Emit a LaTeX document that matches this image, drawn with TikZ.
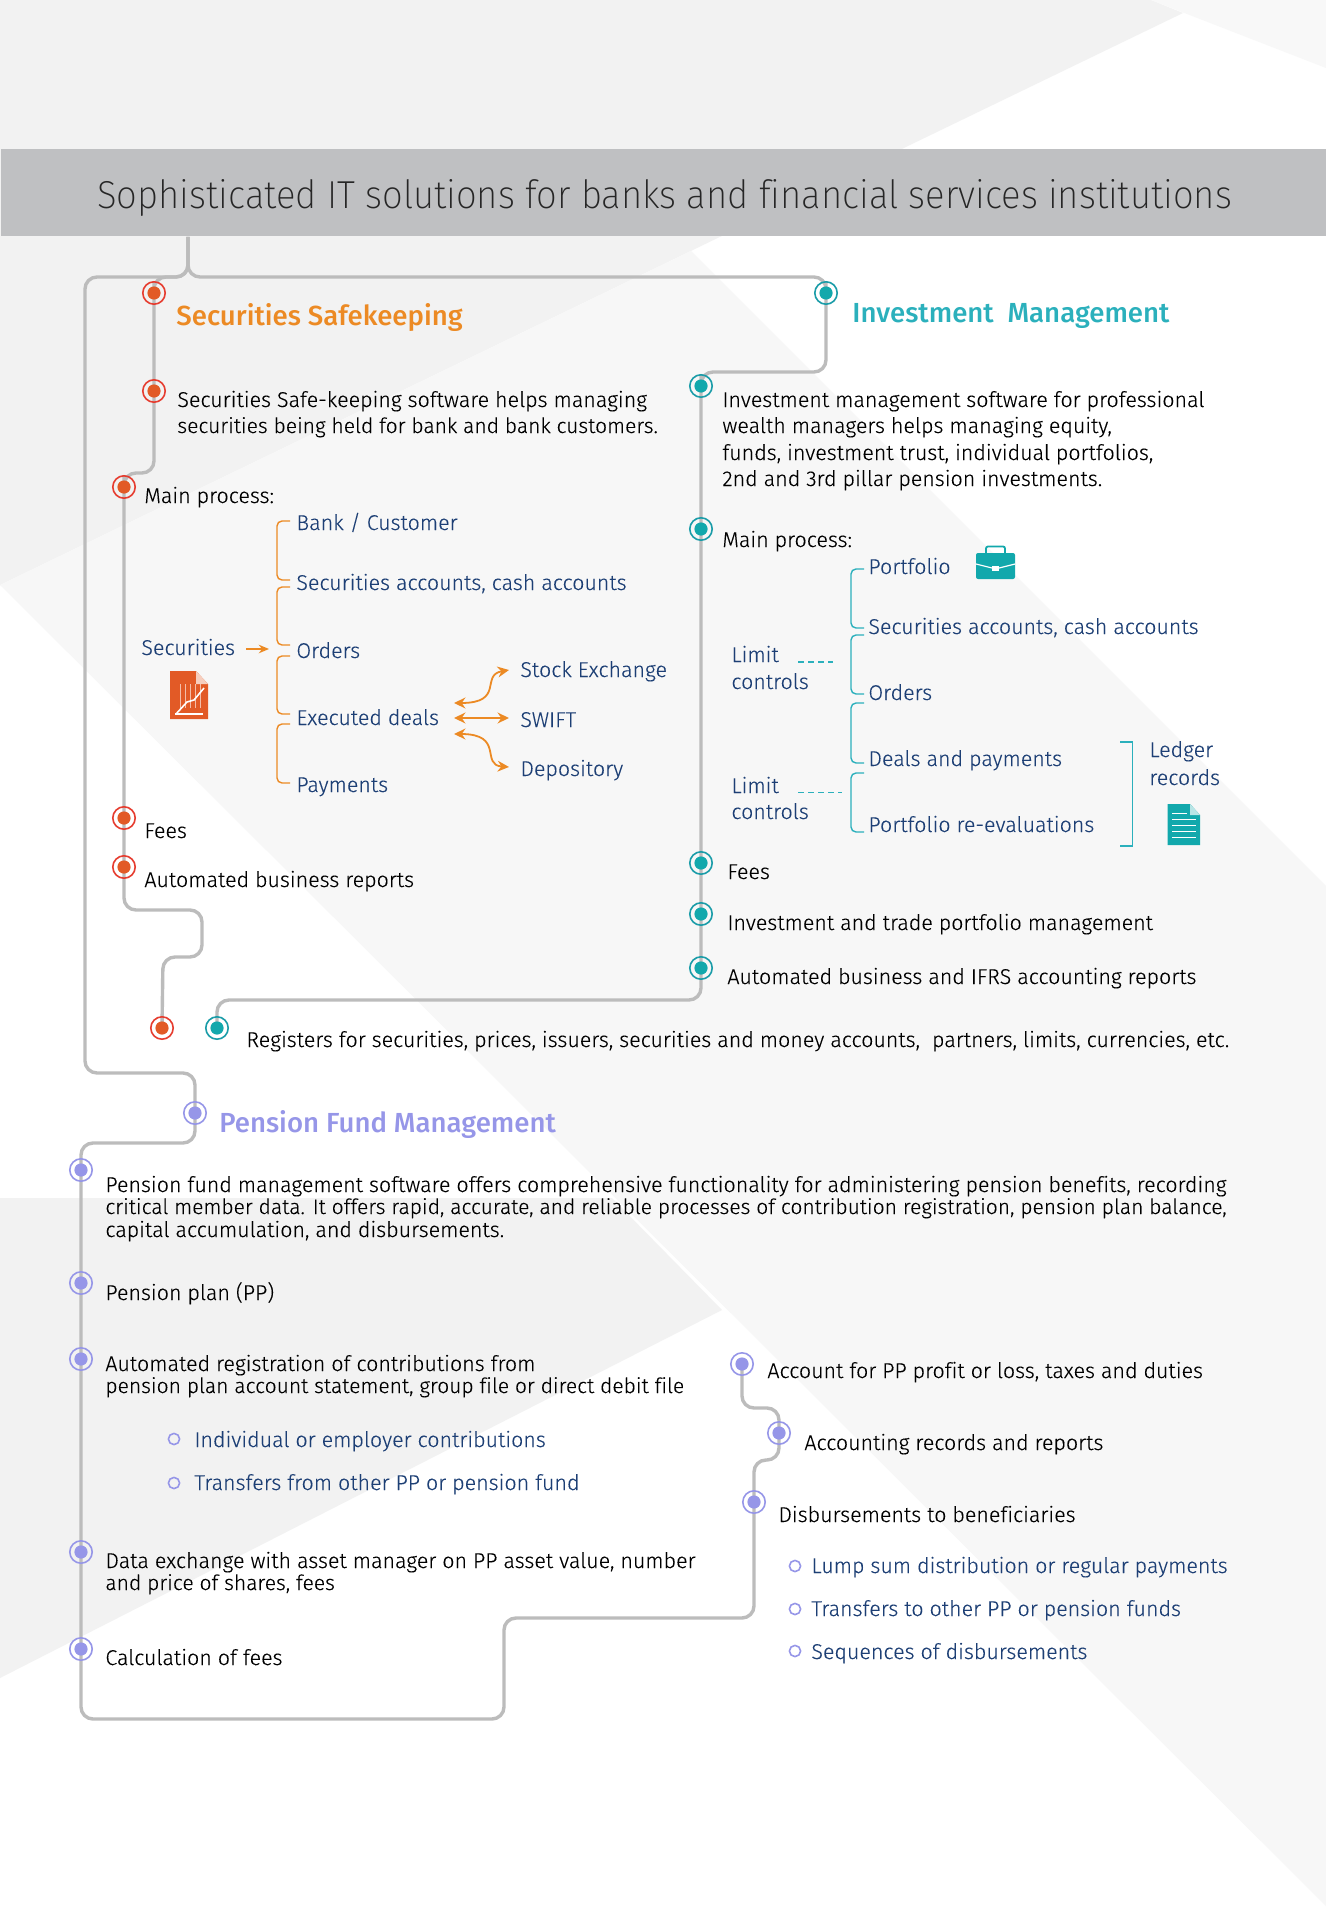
\documentclass[tikz,border=0pt]{standalone}
\usepackage{fontspec}
\setmainfont{Fira Sans}[UprightFont=* Light, Ligatures=NoCommon, FakeBold=0.15]
\newfontfamily\titlefont{Fira Sans}[UprightFont=* ExtraLight, Ligatures=NoCommon, FakeStretch=0.935]
\newfontfamily\headfont{Fira Sans}[UprightFont=* Medium, Ligatures=NoCommon]
\usetikzlibrary{arrows.meta,positioning}
\definecolor{bgdark}{HTML}{F2F2F2}
\definecolor{bglight}{HTML}{F7F7F7}
\definecolor{bgcorner}{HTML}{F8F8F8}
\definecolor{headgrey}{HTML}{BFC0C2}
\definecolor{pipegrey}{HTML}{BCBCBC}
\definecolor{inkblack}{HTML}{000000}
\definecolor{inkblue}{HTML}{1D3F75}
\definecolor{ringred}{HTML}{E63C2F}
\definecolor{dotred}{HTML}{E25A26}
\definecolor{ringteal}{HTML}{1A9CA8}
\definecolor{dotteal}{HTML}{12A8AC}
\definecolor{violet}{HTML}{9696E8}
\definecolor{orangeline}{HTML}{EC8A24}
\definecolor{tealline}{HTML}{2BB0BC}
\pgfdeclarelayer{bg}
\pgfdeclarelayer{pipes}
\pgfsetlayers{bg,pipes,main}
\begin{document}
\begin{tikzpicture}[
    x=0.5pt, y=-0.5pt,
    waypt/.style n args={2}{circle, draw=#1, line width=0.8pt, minimum size=11.2pt, inner sep=0pt,
      path picture={\fill[#2] (path picture bounding box.center) circle (3.3pt);}},
    wred/.style={waypt={ringred}{dotred}},
    wteal/.style={waypt={ringteal}{dotteal}},
    wviol/.style={waypt={violet}{violet}},
    bull/.style={circle, draw=violet, line width=0.8pt, minimum size=5.6pt, inner sep=0pt},
    pipe/.style={draw=pipegrey, line width=1.7pt, rounded corners=6pt},
    txt/.style={anchor=base west, inner sep=0pt, xshift=-0.5pt, text=inkblack, font=\fontsize{10.72}{13}\selectfont},
    tight/.style={txt, font=\fontsize{10.52}{13}\selectfont},
    blue/.style={txt, text=inkblue},
    sect/.style={anchor=base west, inner sep=0pt, xshift=-0.5pt, font=\headfont\fontsize{13.8}{16}\selectfont},
    brko/.style={draw=orangeline, line width=0.7pt, rounded corners=2.5pt},
    brkt/.style={draw=tealline, line width=0.7pt, rounded corners=2.5pt},
    arrone/.style={draw=orangeline, line width=0.8pt, -{Stealth[length=1.8mm,width=1.5mm]}},
    arrtwo/.style={draw=orangeline, line width=0.9pt, {Stealth[length=2mm,width=1.9mm]}-{Stealth[length=2mm,width=1.9mm]}}
  ]
    \useasboundingbox (0,0) rectangle (1326,1910);
    \begin{pgfonlayer}{bg}
      \fill[white] (0,0) rectangle (1326,1910);
      \fill[bgdark] (0,0) -- (1151,0) -- (1183,13) -- (0,585) -- cycle;
      \fill[bgcorner] (1151,0) -- (1326,0) -- (1326,68) -- cycle;
      \fill[bglight] (0,585) -- (691,251) -- (1326,886) -- (1326,1906) -- cycle;
      \fill[bgdark] (0,1198) -- (612,1198) -- (722,1310) -- (0,1678) -- cycle;
    \end{pgfonlayer}

    \node[fill=headgrey, minimum width=662.5pt, minimum height=43.5pt, inner sep=0pt, anchor=north west] (head) at (1,149) {};
    \node[anchor=base west, inner sep=0pt, text=black!85, font=\titlefont\fontsize{19.5}{24}\selectfont] (title) at (97,209)
      {Sophisticated IT solutions for banks and financial services institutions};
    \coordinate (fork) at (188,277);

    \node[wred] (ssect) at (154,293) {};
    \node[wred] (sdesc) at (154,391) {};
    \node[wred] (smain) at (124,487) {};
    \node[wred] (sfees) at (124,818) {};
    \node[wred] (srep) at (124,867) {};
    \node[wred] (sreg) at (162,1028) {};

    \node[wteal] (isect) at (826,293) {};
    \node[wteal] (idesc) at (701,386) {};
    \node[wteal] (imain) at (701,529) {};
    \node[wteal] (ifees) at (701,863) {};
    \node[wteal] (itrade) at (701,914) {};
    \node[wteal] (irep) at (701,968) {};
    \node[wteal] (ireg) at (217,1028) {};

    \node[wviol] (pfund) at (195,1113) {};
    \node[wviol] (pdesc) at (81,1170) {};
    \node[wviol] (pplan) at (81,1283) {};
    \node[wviol] (pauto) at (81,1359) {};
    \node[wviol] (pdata) at (81,1552) {};
    \node[wviol] (pcalc) at (81,1649) {};
    \node[wviol] (pdisb) at (754,1502) {};
    \node[wviol] (paccr) at (779,1433) {};
    \node[wviol] (pacct) at (742,1364) {};

    \begin{pgfonlayer}{pipes}
      \draw[pipe] (head.south -| fork) -- (fork) -- (85,277) -- (85,1073) -- (195,1073) -- (pfund.center) -- (195,1143) -- (81,1143)
        -- (pdesc.center) -- (pplan.center) -- (pauto.center) -- (pdata.center) -- (pcalc.center) -- (81,1719) -- (504,1719) -- (504,1618)
        -- (754,1618) -- (pdisb.center) -- (754,1460) -- (779,1460) -- (paccr.center) -- (779,1408) -- (742,1408) -- (pacct.center);
      \draw[pipe] (head.south -| fork) -- (fork) -- (154,277) -- (ssect.center) -- (sdesc.center) -- (154,473) -- (124,473) -- (smain.center)
        -- (sfees.center) -- (srep.center) -- (124,910) -- (202,910) -- (202,957) -- (163,957) -- (sreg.center);
      \draw[pipe] (head.south -| fork) -- (fork) -- (826,277) -- (isect.center) -- (826,372) -- (701,372) -- (idesc.center) -- (imain.center)
        -- (ifees.center) -- (itrade.center) -- (irep.center) -- (701,1000) -- (217,1000) -- (ireg.center);
    \end{pgfonlayer}

    \node[sect, text=orangeline] (stitle) at (177,325) {Securities Safekeeping};
    \node[txt] (sd1) at (178,407) {Securities Safe-keeping software helps managing};
    \node[tight] (sd2) at (178,433) {securities being held for bank and bank customers.};
    \node[txt] (smt) at (145,503) {Main process:};
    \node[blue] (bank) at (297,530) {Bank / Customer};
    \node[blue] (acct) at (297,590) {Securities accounts, cash accounts};
    \node[blue] (orders) at (297,658) {Orders};
    \node[blue] (deals) at (297,725) {Executed deals};
    \node[blue] (paym) at (297,792) {Payments};
    \node[blue] (secur) at (142,655) {Securities};
    \node[blue] (stock) at (521,677) {Stock Exchange};
    \node[blue] (swift) at (521,727) {SWIFT};
    \node[blue] (depo) at (521,776) {Depository};
    \node[txt] (sft) at (145,838) {Fees};
    \node[txt] (srt) at (145,887) {Automated business reports};
    \node[txt] (regt) at (247,1047) {Registers for securities, prices, issuers, securities and money accounts,\ \ partners, limits, currencies, etc.};

    \coordinate (secout) at (246,649);
    \coordinate (secin) at (269,649);
    \coordinate (dealsup) at (454,703);
    \coordinate (dealsmid) at (454,718);
    \coordinate (dealslow) at (454,734);
    \coordinate (stockin) at (509,670);
    \coordinate (swiftin) at (509,718);
    \coordinate (depoin) at (509,767);
    \draw[arrone] (secout) -- (secin);
    \draw[arrtwo] (dealsup) .. controls (505,703) and (480,675) .. (stockin);
    \draw[arrtwo] (dealsmid) -- (swiftin);
    \draw[arrtwo] (dealslow) .. controls (505,734) and (480,765) .. (depoin);

    \draw[brko] (290,521) -- (277,521) -- (277,580) -- (290,580);
    \draw[brko] (290,587) -- (277,587) -- (277,645) -- (290,645);
    \draw[brko] (290,656) -- (277,656) -- (277,714) -- (290,714);
    \draw[brko] (290,724) -- (277,724) -- (277,783) -- (290,783);

    \fill[dotred] (170,671) -- (196,671) -- (208,684) -- (208,719) -- (170,719) -- cycle;
    \fill[white!70!dotred] (196,671) -- (208,684) -- (196,684) -- cycle;
    \draw[white!60!dotred, line width=0.3pt, step=5] (176,684) grid (203,708);
    \draw[white, line width=0.8pt] (175,714) -- (203,714);
    \draw[white, line width=0.8pt] (176,714) -- (187,702) -- (194,700) -- (204,688);

    \node[sect, text=tealline] (ititle) at (853,322) {Investment\ \ Management};
    \node[txt] (id1) at (723,407) {Investment management software for professional};
    \node[txt] (id2) at (723,433) {wealth managers helps managing equity,};
    \node[txt] (id3) at (723,460) {funds, investment trust, individual portfolios,};
    \node[txt] (id4) at (723,486) {2nd and 3rd pillar pension investments.};
    \node[txt] (imt) at (723,547) {Main process:};
    \node[blue] (port) at (869,574) {Portfolio};
    \node[blue] (iacct) at (869,634) {Securities accounts, cash accounts};
    \node[blue] (iord) at (869,700) {Orders};
    \node[blue] (idp) at (869,766) {Deals and payments};
    \node[blue] (ireev) at (869,832) {Portfolio re-evaluations};
    \node[blue] (lim1) at (732,662) {Limit};
    \node[blue] (ctl1) at (732,689) {controls};
    \node[blue] (lim2) at (732,793) {Limit};
    \node[blue] (ctl2) at (732,819) {controls};
    \node[blue] (ledg) at (1150,757) {Ledger};
    \node[blue] (recs) at (1150,785) {records};
    \node[txt] (ift) at (728,879) {Fees};
    \node[txt] (itt) at (728,930) {Investment and trade portfolio management};
    \node[txt] (irt) at (728,984) {Automated business and IFRS accounting reports};

    \draw[brkt] (864,569) -- (851,569) -- (851,628) -- (864,628);
    \draw[brkt] (864,635) -- (851,635) -- (851,694) -- (864,694);
    \draw[brkt] (864,703) -- (851,703) -- (851,763) -- (864,763);
    \draw[brkt] (864,773) -- (851,773) -- (851,832) -- (864,832);
    \draw[draw=tealline, line width=0.7pt] (1120,742) -- (1132.5,742) -- (1132.5,846) -- (1120,846);
    \draw[tealline, line width=0.6pt, dash pattern=on 3pt off 2pt] (798,662) -- (833,662);
    \draw[tealline, line width=0.4pt, dash pattern=on 3pt off 2pt] (798,792) -- (842,792);

    \fill[dotteal, rounded corners=1pt] (976,553) rectangle (1015,579);
    \draw[dotteal, line width=0.9pt, rounded corners=1pt] (986,553) -- (986,546.5) -- (1005,546.5) -- (1005,553);
    \draw[white, line width=0.6pt] (976,564) -- (992,568) -- (999,568) -- (1015,564);
    \fill[white] (992,566) rectangle (999,571);
    \fill[dotteal] (1167.5,804) -- (1190,804) -- (1200,815) -- (1200,845) -- (1167.5,845) -- cycle;
    \fill[white!70!dotteal] (1190,804) -- (1200,815) -- (1190,815) -- cycle;
    \draw[white, line width=0.5pt] (1172,813) -- (1187,813) (1172,819) -- (1196,819) (1172,825) -- (1196,825) (1172,831) -- (1196,831) (1172,837) -- (1196,837);

    \node[sect, text=violet] (ptitle) at (220,1132) {Pension Fund Management};
    \node[txt] (pd1) at (106,1192) {Pension fund management software offers comprehensive functionality for administering pension benefits, recording};
    \node[tight] (pd2) at (106,1214) {critical member data. It offers rapid, accurate, and reliable processes of contribution registration, pension plan balance,};
    \node[txt] (pd3) at (106,1237) {capital accumulation, and disbursements.};
    \node[txt] (ppt) at (106,1300) {Pension plan (PP)};
    \node[txt] (pa1) at (106,1371) {Automated registration of contributions from};
    \node[tight] (pa2) at (106,1393) {pension plan account statement, group file or direct debit file};
    \node[bull] (bind) at (174,1439) {};
    \node[blue] (indv) at (195,1447) {Individual or employer contributions};
    \node[bull] (btrf) at (174,1483) {};
    \node[blue] (trfr) at (195,1490) {Transfers from other PP or pension fund};
    \node[txt] (pe1) at (106,1568) {Data exchange with asset manager on PP asset value, number};
    \node[tight] (pe2) at (106,1590) {and price of shares, fees};
    \node[txt] (pct) at (106,1665) {Calculation of fees};
    \node[txt] (pat) at (768,1378) {Account for PP profit or loss, taxes and duties};
    \node[txt] (prt) at (805,1450) {Accounting records and reports};
    \node[txt] (pbt) at (779,1522) {Disbursements to beneficiaries};
    \node[bull] (blmp) at (795,1566) {};
    \node[blue] (lump) at (812,1573) {Lump sum distribution or regular payments};
    \node[bull] (bto) at (795,1609) {};
    \node[blue] (tfot) at (812,1616) {Transfers to other PP or pension funds};
    \node[bull] (bseq) at (795,1651) {};
    \node[blue] (sequ) at (812,1659) {Sequences of disbursements};
  \end{tikzpicture}
\end{document}
